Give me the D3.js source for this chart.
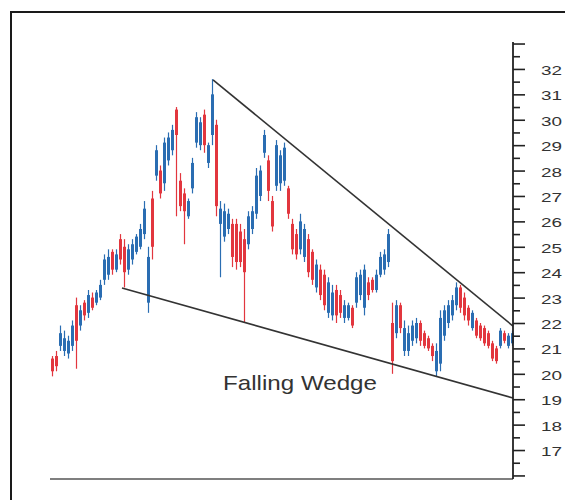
<!DOCTYPE html>
<html><head><meta charset="utf-8">
<script src="https://cdn.jsdelivr.net/npm/d3@7"></script>
<style>body{margin:0;background:#fff}svg{display:block}</style>
</head><body>
<svg id="c" width="565" height="500"></svg>
<script>
const opens = [20.6,20.7,21.1,20.9,20.8,21.1,22.7,21.9,22.8,22.4,
23.0,22.8,23.0,23.7,23.9,24.8,24.1,25.3,25.0,24.1,
24.5,24.8,25.0,25.5,22.8,26.9,27.8,28.0,27.5,28.4,
28.8,30.4,27.6,27.1,26.2,27.3,29.1,29.0,30.2,28.3,
29.4,29.8,25.9,25.4,25.7,25.9,25.9,25.6,25.3,25.1,
25.7,26.3,27.0,28.7,28.4,26.8,27.4,27.5,27.6,27.3,
25.9,25.5,24.9,24.6,25.3,24.8,23.4,24.1,23.9,22.4,
22.3,23.3,23.1,22.2,22.2,22.6,22.8,23.1,22.6,23.6,
23.7,23.3,23.9,24.1,24.4,22.0,21.6,22.7,20.9,20.9,
21.3,21.4,22.0,21.6,21.4,21.1,20.1,20.4,21.5,22.0,
22.3,22.7,23.4,23.0,22.6,21.8,22.1,21.9,21.8,21.6,
21.2,21.0,21.1,21.6,21.1,21.2];
const highs = [20.7,20.9,21.9,21.7,21.5,22.1,23.0,22.7,22.9,23.3,
23.2,23.3,23.7,24.7,24.9,24.9,24.9,25.5,25.3,25.1,
25.3,25.5,25.9,26.8,25.0,27.2,29.0,28.2,29.3,29.5,
29.8,30.5,27.9,27.3,26.9,28.5,30.3,30.1,30.4,29.1,
31.6,30.0,26.8,26.7,26.5,26.1,26.1,25.9,25.7,26.4,
26.6,28.1,28.2,29.6,28.6,27.0,29.2,28.8,29.1,27.4,
26.1,25.7,26.3,25.9,25.5,24.9,24.5,24.3,24.1,23.8,
23.5,23.5,23.3,22.9,22.8,22.7,24.0,24.1,24.3,23.8,
23.8,24.1,24.8,24.9,25.7,22.8,22.9,22.8,22.1,21.9,
22.1,22.2,22.1,21.7,21.5,21.2,21.2,22.5,22.7,22.9,
23.1,23.6,23.5,23.2,22.7,22.5,22.2,22.0,21.9,21.7,
21.3,21.1,21.8,21.7,21.6,21.7];
const lows = [19.9,20.1,20.9,20.7,20.6,20.9,20.2,21.7,22.1,22.2,
22.5,22.7,22.9,23.5,23.7,23.9,24.0,24.3,23.4,23.9,
24.3,24.7,24.9,25.3,22.4,24.5,27.6,26.9,27.2,28.2,
28.6,26.2,26.4,25.1,26.1,27.1,28.9,28.8,28.7,28.1,
29.0,26.2,23.8,25.2,25.5,24.2,24.1,24.2,22.0,24.9,
25.5,26.1,26.8,28.5,26.8,25.6,27.2,27.2,27.4,26.1,
24.7,24.5,24.7,24.4,23.8,23.5,23.2,22.9,22.5,22.2,
22.1,22.0,22.2,22.0,22.1,21.8,22.6,22.9,22.3,22.9,
23.2,23.2,23.8,23.9,24.2,20.0,21.4,21.6,20.7,20.7,
21.1,21.2,21.1,21.0,20.9,20.5,19.9,20.1,21.3,21.8,
22.1,22.5,22.4,22.1,21.9,21.7,21.4,21.3,21.1,21.0,
20.5,20.4,21.0,21.2,21.0,21.1];
const closes = [20.1,20.3,21.6,21.4,21.3,21.9,21.3,22.5,22.3,23.1,
22.6,23.2,23.5,24.5,24.6,24.1,24.7,24.5,24.0,24.9,
25.1,25.4,25.7,26.5,24.6,25.0,28.8,27.1,29.1,29.3,
29.6,29.4,26.6,26.4,26.8,28.3,30.1,29.9,29.0,29.0,
31.0,26.6,26.5,26.4,26.3,24.6,24.4,24.4,24.0,26.2,
26.4,27.8,28.0,29.4,27.2,25.8,29.0,28.6,28.9,26.3,
24.9,24.7,26.0,25.7,24.0,23.7,24.3,23.1,22.7,23.6,
23.2,22.3,22.4,22.7,22.7,21.9,23.8,23.9,24.1,23.1,
23.3,23.9,24.6,24.7,25.5,20.5,22.7,21.8,21.8,21.6,
21.9,22.0,21.3,21.1,21.0,20.7,20.9,22.2,22.5,22.7,
22.9,23.4,22.6,22.3,22.1,22.4,21.5,21.4,21.2,21.1,
20.6,20.5,21.7,21.3,21.5,21.6];
const majorTicks = d3.range(16, 34);
const minorTicks = d3.range(16.5, 33, 1);
const tickLabels = ["17","18","19","20","21","22","23","24","25","26","27","28","29","30","31","32"];
const upperLine = [[40.25, 31.57], [115.25, 21.88]];
const lowerLine = [[17.5, 23.38], [115.25, 19.05]];
const title = "Falling Wedge";

const svg = d3.select("#c");
const n = opens.length;
const x = d3.scaleLinear().domain([0, n - 1]).range([52, 512]);
const y = d3.scaleLinear().domain([15.86, 33.06]).range([479, 42]);
const BLUE = "#2a6db2", RED = "#e2363e";

// frame (left & top)
svg.append("path").attr("d", "M11,500 V12 H565").attr("fill", "none")
  .attr("stroke", "#1a1a1a").attr("stroke-width", 2);

// baseline
svg.append("line").attr("x1", x(-0.5)).attr("x2", x(115.25))
  .attr("y1", y(15.86)).attr("y2", y(15.86))
  .attr("stroke", "#555").attr("stroke-width", 1.6);

// candles
const data = opens.map((o, i) => ({i, o, h: highs[i], l: lows[i], c: closes[i]}));
const g = svg.append("g");
g.selectAll("line.w").data(data).join("line").attr("class", "w")
  .attr("x1", d => Math.round(x(d.i)) + 0.5).attr("x2", d => Math.round(x(d.i)) + 0.5)
  .attr("y1", d => y(d.h)).attr("y2", d => y(d.l))
  .attr("stroke", d => d.c >= d.o ? BLUE : RED).attr("stroke-width", 1.2);
g.selectAll("rect").data(data).join("rect")
  .attr("x", d => Math.round(x(d.i)) - 1)
  .attr("width", 3)
  .attr("y", d => y(Math.max(d.o, d.c)))
  .attr("height", d => Math.max(2, Math.abs(y(d.o) - y(d.c))))
  .attr("fill", d => d.c >= d.o ? BLUE : RED);

// wedge lines
const ln = d3.line().x(d => x(d[0])).y(d => y(d[1]));
[upperLine, lowerLine].forEach(p => svg.append("path").attr("d", ln(p))
  .attr("fill", "none").attr("stroke", "#333").attr("stroke-width", 1.6));

// right axis
const ax = svg.append("g").attr("transform", `translate(${x(115.25)},0)`);
const major = d3.axisRight(y).tickValues(majorTicks).tickSize(12).tickPadding(16)
  .tickFormat(v => tickLabels.includes(String(v)) ? String(v) : "");
ax.call(major);
ax.append("g").call(d3.axisRight(y).tickValues(minorTicks).tickSize(7).tickFormat(""))
  .select(".domain").remove();
ax.select(".domain").attr("d", `M0,${y(33.06)}V${y(15.86)}`).attr("stroke", "#222").attr("stroke-width", 1.8);
ax.selectAll(".tick line").attr("stroke", "#222").attr("stroke-width", 1.6);
ax.selectAll(".tick text").attr("fill", "#333")
  .attr("font-family", "Liberation Sans, Arial, sans-serif").attr("font-size", 13)
  .attr("dy", "0.42em")
  .each(function() { if (this.textContent) d3.select(this).attr("textLength", 21).attr("lengthAdjust", "spacingAndGlyphs"); });

// annotation
svg.append("text").attr("x", x(42.75)).attr("y", y(19.36))
  .attr("font-family", "Liberation Sans, Arial, sans-serif").attr("font-size", 21)
  .attr("fill", "#333").attr("textLength", 154).attr("lengthAdjust", "spacingAndGlyphs")
  .text(title);
</script>
</body></html>
